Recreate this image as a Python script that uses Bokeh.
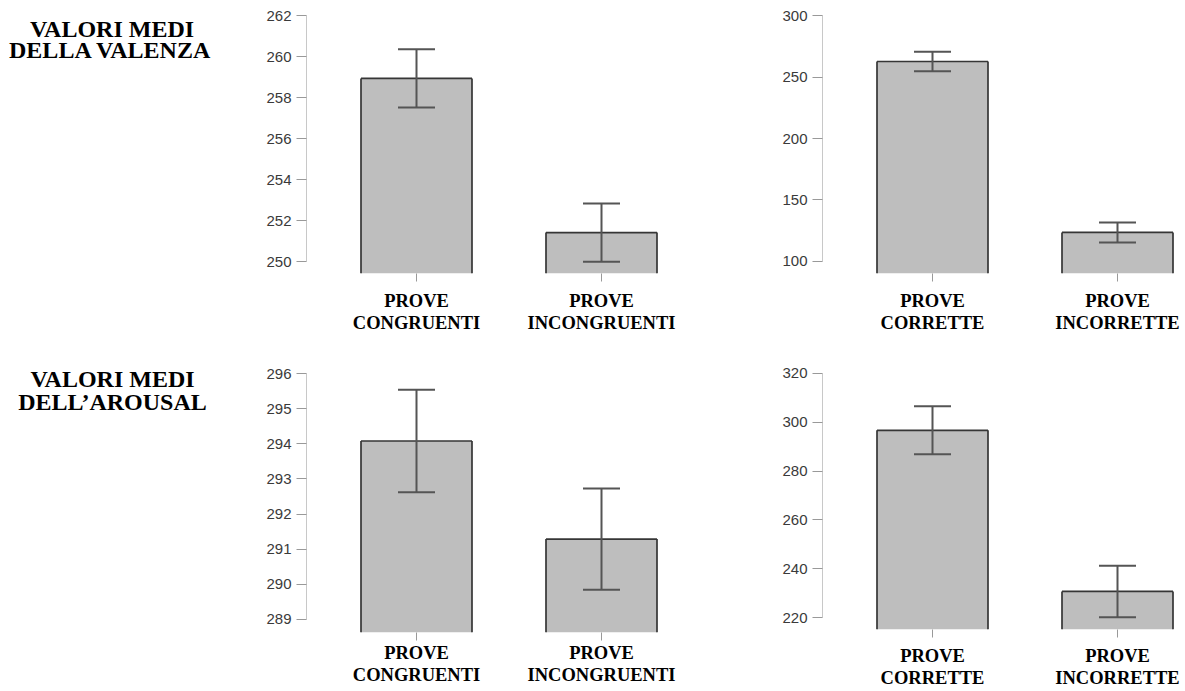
from bokeh.plotting import figure
from bokeh.layouts import column, row
from bokeh.models import Range1d, FixedTicker, ColumnDataSource
from bokeh.embed import file_html
from bokeh.resources import INLINE
from bokeh.core.properties import value

# ---------------- data ----------------
row_titles = [["VALORI MEDI", "DELLA VALENZA"], ["VALORI MEDI", "DELL\u2019AROUSAL"]]

cats_congr = ["PROVE\nCONGRUENTI", "PROVE\nINCONGRUENTI"]
cats_corr = ["PROVE\nCORRETTE", "PROVE\nINCORRETTE"]

val_congr_mean = [258.93, 251.41]
val_congr_se = [1.42, 1.42]
val_corr_mean = [262.6, 123.6]
val_corr_se = [7.9, 8.15]

aro_congr_mean = [294.08, 291.29]
aro_congr_se = [1.46, 1.44]
aro_corr_mean = [296.7, 230.7]
aro_corr_se = [9.85, 10.55]

ticks_val_congr = [250, 252, 254, 256, 258, 260, 262]
ticks_val_corr = [100, 150, 200, 250, 300]
ticks_aro_congr = [289, 290, 291, 292, 293, 294, 295, 296]
ticks_aro_corr = [220, 240, 260, 280, 300, 320]

BAR_FILL = "#bebebe"
BAR_LINE = "#363636"
ERR_COLOR = "#555555"
UNIT = 185.0  # px between categories
HALF_W = 0.3  # half bar width (category units)
CAP = 0.1     # half cap width


def panel(cats, means, ses, ticks, y_range, frame_w, frame_h, first_px,
          b_left, b_right, b_top, b_bottom, standoff_x):
    n = len(cats)
    xs = [i + 1 for i in range(n)]
    x_start = 1 - first_px / UNIT
    x_end = x_start + frame_w / UNIT
    p = figure(frame_width=frame_w, frame_height=frame_h,
               x_range=Range1d(x_start, x_end), y_range=Range1d(*y_range),
               toolbar_location=None, output_backend="svg",
               min_border_left=b_left, min_border_right=b_right,
               min_border_top=b_top, min_border_bottom=b_bottom)
    p.outline_line_color = None
    p.xgrid.visible = False
    p.ygrid.visible = False
    p.background_fill_color = "white"
    p.border_fill_color = "white"

    base = y_range[0]
    lows = [m - s for m, s in zip(means, ses)]
    highs = [m + s for m, s in zip(means, ses)]
    src = ColumnDataSource(dict(x=xs, top=means, low=lows, high=highs,
                                bottom=[base] * n,
                                xl=[x - HALF_W for x in xs], xr=[x + HALF_W for x in xs],
                                cl=[x - CAP for x in xs], cr=[x + CAP for x in xs]))
    # bar fill
    p.vbar(x="x", top="top", bottom="bottom", width=2 * HALF_W, source=src,
           fill_color=BAR_FILL, line_color=None)
    # bar outline: left, top, right (no bottom edge)
    for x0, y0, x1, y1 in (("xl", "bottom", "xl", "top"),
                           ("xl", "top", "xr", "top"),
                           ("xr", "bottom", "xr", "top")):
        p.segment(x0=x0, y0=y0, x1=x1, y1=y1, source=src,
                  line_color=BAR_LINE, line_width=1.7)
    # error bars
    p.segment(x0="x", y0="low", x1="x", y1="high", source=src,
              line_color=ERR_COLOR, line_width=2)
    p.segment(x0="cl", y0="low", x1="cr", y1="low", source=src,
              line_color=ERR_COLOR, line_width=2)
    p.segment(x0="cl", y0="high", x1="cr", y1="high", source=src,
              line_color=ERR_COLOR, line_width=2)

    ya = p.yaxis[0]
    ya.ticker = FixedTicker(ticks=ticks)
    ya.bounds = (min(ticks), max(ticks))
    ya.axis_line_color = "#c8c8c8"
    ya.axis_line_width = 1
    ya.major_tick_line_color = "#999999"
    ya.major_tick_in = 0
    ya.major_tick_out = 10
    ya.minor_tick_line_color = None
    ya.major_label_text_font = "Liberation Sans"
    ya.major_label_text_font_size = "15px"
    ya.major_label_text_color = "#3a3a3a"
    ya.major_label_standoff = 5

    xa = p.xaxis[0]
    xa.ticker = FixedTicker(ticks=xs)
    xa.major_label_overrides = {x: c for x, c in zip(xs, cats)}
    xa.axis_line_color = None
    xa.major_tick_line_color = "#999999"
    xa.major_tick_in = 0
    xa.major_tick_out = 8
    xa.minor_tick_line_color = None
    xa.major_label_text_font = "Liberation Serif"
    xa.major_label_text_font_style = "bold"
    xa.major_label_text_font_size = "18.5px"
    xa.major_label_text_color = "black"
    xa.major_label_text_line_height = 1.12
    xa.major_label_standoff = standoff_x
    return p


def title_fig(lines, w, h, cxs, cys):
    p = figure(width=w, height=h, x_range=Range1d(0, w), y_range=Range1d(h, 0),
               toolbar_location=None, output_backend="svg", min_border=0,
               x_axis_location=None, y_axis_location=None)
    p.grid.visible = False
    p.outline_line_color = None
    p.text(x=cxs, y=cys, text=lines,
           text_font=value("Liberation Serif"), text_font_style="bold",
           text_font_size="24px", text_color="black",
           text_align="center", text_baseline="middle")
    return p


# ---------------- top row (valenza) ----------------
t1 = title_fig(row_titles[0], 255, 335, [111.5, 110], [24, 50])
p1 = panel(cats_congr, val_congr_mean, val_congr_se, ticks_val_congr,
           (249.415, 262.244), 406, 263, 110, 51, 48, 10, 62, 9)
p2 = panel(cats_corr, val_corr_mean, val_corr_se, ticks_val_corr,
           (90.24, 304.07), 353, 263, 110, 62, 10, 10, 62, 9)

# ---------------- bottom row (arousal) ----------------
t2 = title_fig(row_titles[1], 255, 355, [112, 112], [47, 76])
p3 = panel(cats_congr, aro_congr_mean, aro_congr_se, ticks_aro_congr,
           (288.63, 296.94), 406, 292, 110, 51, 48, 5, 58, 2)
p4 = panel(cats_corr, aro_corr_mean, aro_corr_se, ticks_aro_corr,
           (215.1, 333.5), 353, 289, 110, 62, 10, 5, 61, 8)

layout = column(row(t1, p1, p2), row(t2, p3, p4))

open("out.html", "w").write(file_html(layout, INLINE))
